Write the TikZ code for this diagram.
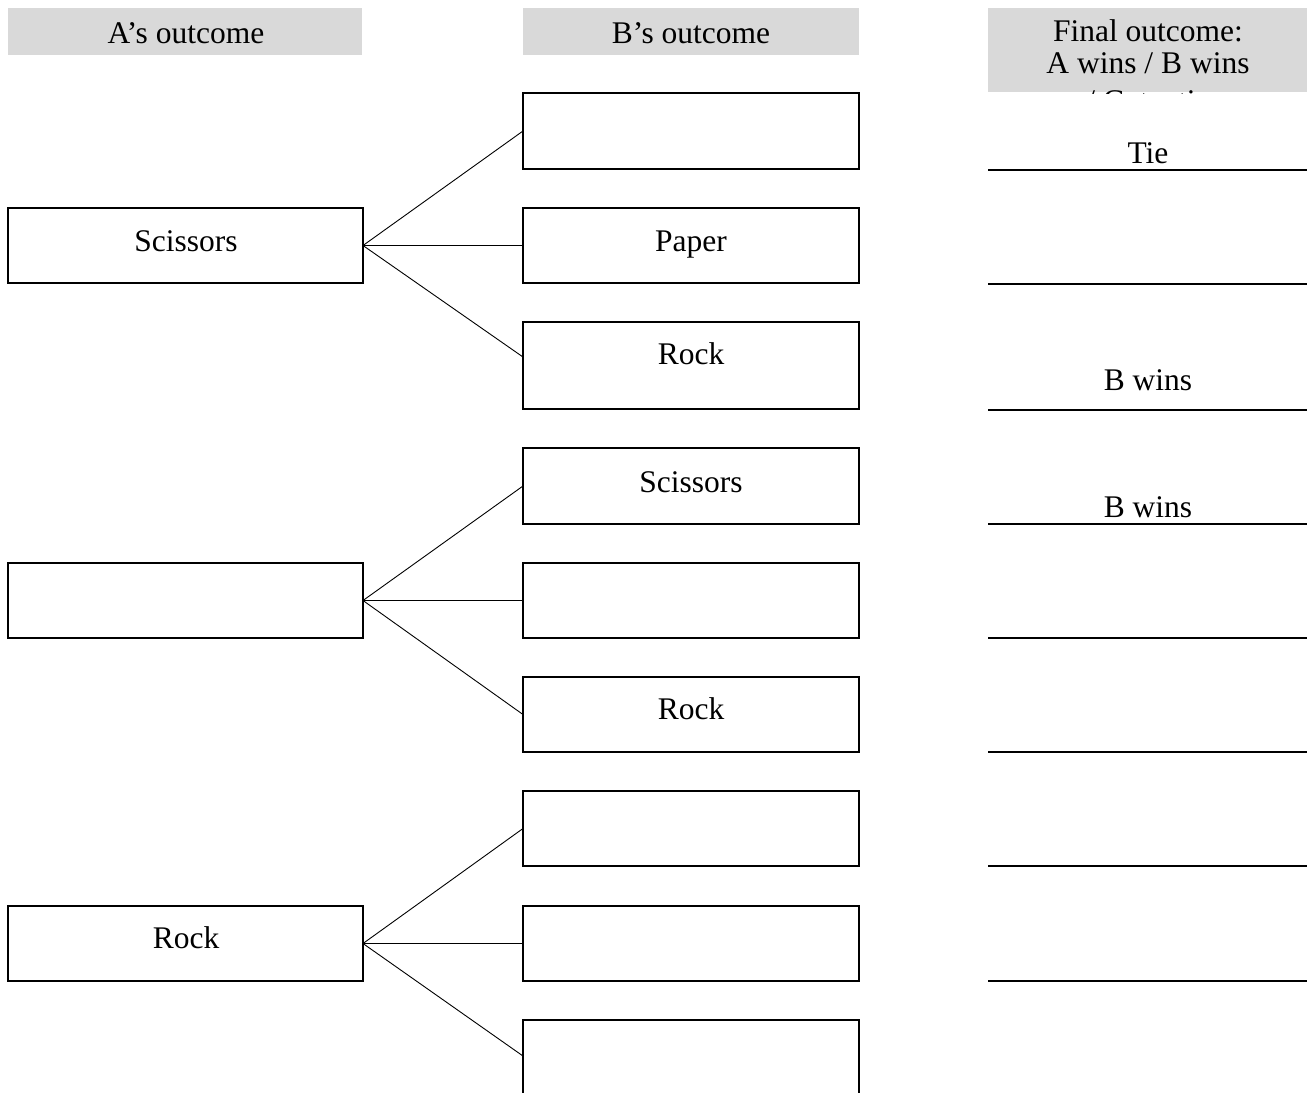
\documentclass[tikz,border=0pt]{standalone}
\usepackage{fontspec}
\setmainfont{Liberation Serif}
\definecolor{hdrgray}{RGB}{217,217,217}
\begin{document}
\begin{tikzpicture}[x=1pt,y=-1pt,
  hdr/.style={fill=hdrgray, draw=none, anchor=north west, inner sep=0pt, outer sep=0pt},
  abox/.style={draw, line width=1.6pt, anchor=north west, minimum width=355pt, minimum height=75pt, inner sep=0pt, outer sep=0pt},
  bbox/.style={draw, line width=1.6pt, anchor=north west, minimum width=336pt, inner sep=0pt, outer sep=0pt},
  lbl/.style={anchor=base, inner sep=0pt, font=\fontsize{31.5}{33}\selectfont},
  conn/.style={line width=0.9pt},
  rulel/.style={line width=1.8pt}]
\useasboundingbox (0,0) rectangle (1310,1093);
\clip (0,0) rectangle (1310,1093);
% headers
\node[hdr, minimum width=354pt, minimum height=47pt] (ha) at (8,8) {};
\node[hdr, minimum width=336pt, minimum height=47pt] (hb) at (523,8) {};
\node[hdr, minimum width=319pt, minimum height=84pt] (hc) at (988,8) {};
\node[lbl] (tha) at (186,43) {A’s outcome};
\node[lbl] (thb) at (691,43) {B’s outcome};
\begin{scope}
\clip (988,0) rectangle (1310,93);
\node[lbl] (thc1) at (1148,41) {Final outcome:};
\node[lbl] (thc2) at (1148,73) {A wins / B wins};
\node[lbl] (thc3) at (1148,111) {/ Get a tie};
\end{scope}
% A column
\node[abox] (a1) at (8,208) {};
\node[abox] (a2) at (8,563) {};
\node[abox] (a3) at (8,906) {};
\node[lbl] (ta1) at (186,251) {Scissors};
\node[lbl] (ta3) at (186,948) {Rock};
% B column
\node[bbox, minimum height=76pt] (b1) at (523,93) {};
\node[bbox, minimum height=75pt] (b2) at (523,208) {};
\node[bbox, minimum height=87pt] (b3) at (523,322) {};
\node[bbox, minimum height=76pt] (b4) at (523,448) {};
\node[bbox, minimum height=75pt] (b5) at (523,563) {};
\node[bbox, minimum height=75pt] (b6) at (523,677) {};
\node[bbox, minimum height=75pt] (b7) at (523,791) {};
\node[bbox, minimum height=75pt] (b8) at (523,906) {};
\node[bbox, minimum height=100pt] (b9) at (523,1020) {};
\node[lbl] (tb2) at (691,251) {Paper};
\node[lbl] (tb3) at (691,364) {Rock};
\node[lbl] (tb4) at (691,492) {Scissors};
\node[lbl] (tb6) at (691,719) {Rock};
\coordinate (e3) at (523,357);
\coordinate (e9) at (523,1056);
% connectors
\draw[conn] (a1.east) -- (b1.west);
\draw[conn] (a1.east) -- (b2.west);
\draw[conn] (a1.east) -- (e3);
\draw[conn] (a2.east) -- (b4.west);
\draw[conn] (a2.east) -- (b5.west);
\draw[conn] (a2.east) -- (b6.west);
\draw[conn] (a3.east) -- (b7.west);
\draw[conn] (a3.east) -- (b8.west);
\draw[conn] (a3.east) -- (e9);
% outcome rules
\foreach \yy in {170,284,410,524,638,752,866,981}
  \draw[rulel] (988,\yy) -- (1307,\yy);
\node[lbl] (tc1) at (1148,163) {Tie};
\node[lbl] (tc3) at (1148,390) {B wins};
\node[lbl] (tc4) at (1148,517) {B wins};
\end{tikzpicture}
\end{document}
